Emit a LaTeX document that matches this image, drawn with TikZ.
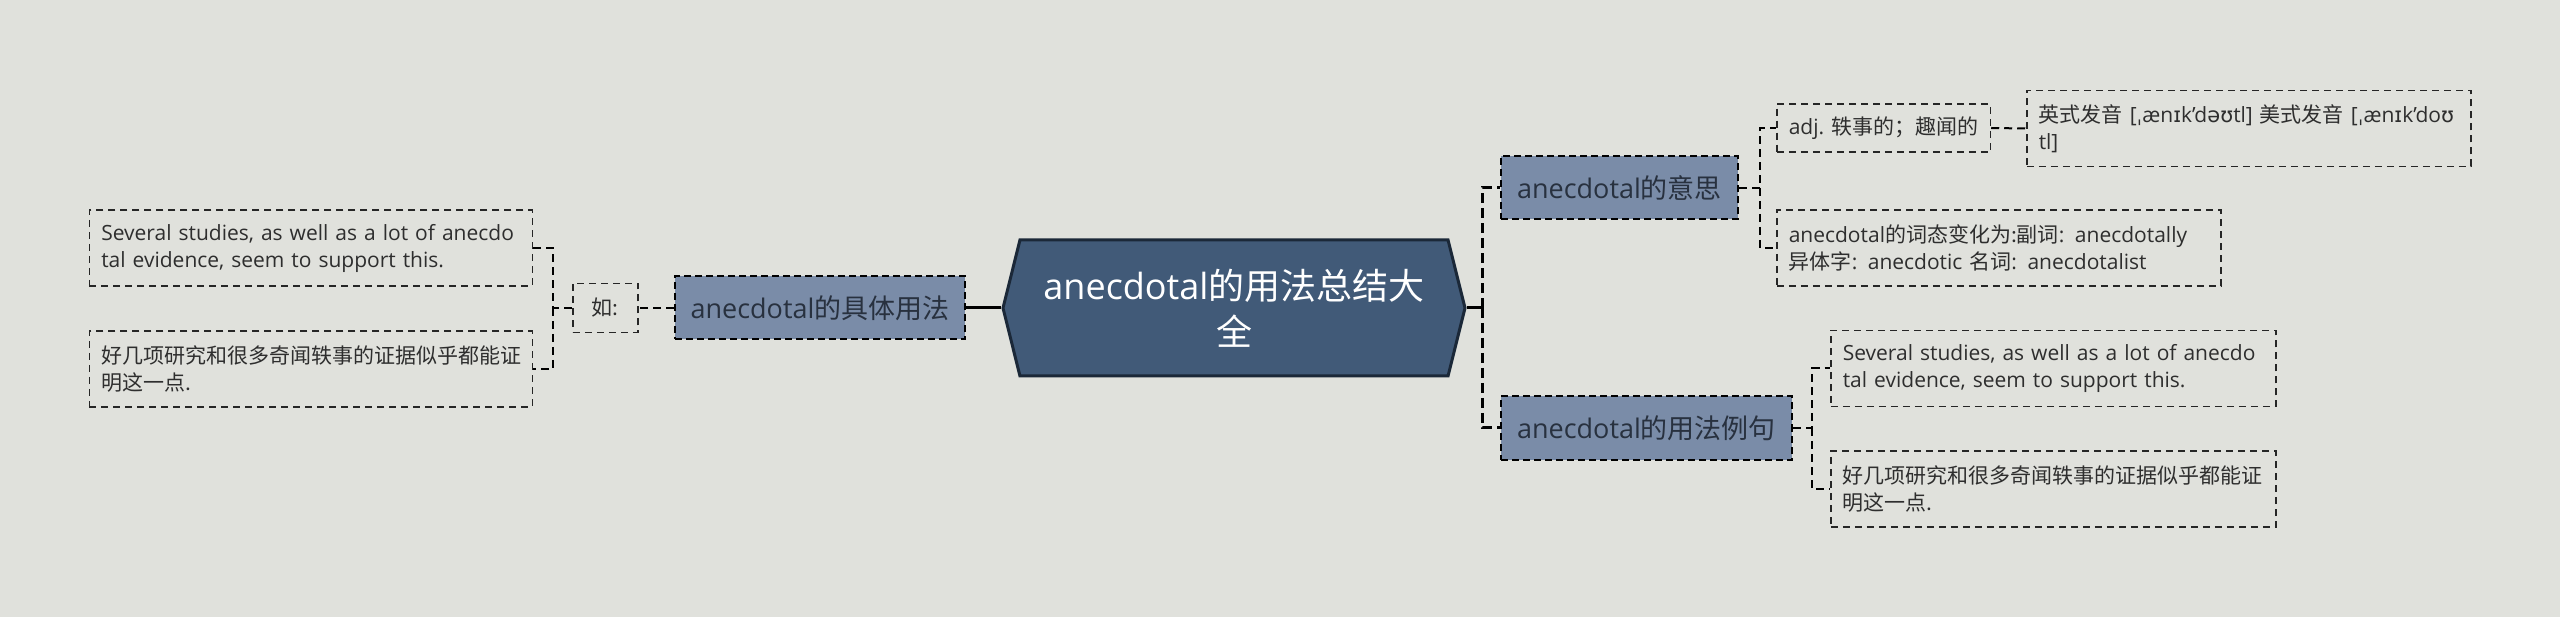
\documentclass[tikz,border=0pt]{standalone}
\usepackage{fontspec}
\setmainfont{Open Sans}
\newfontfamily\zh{Noto Sans CJK SC}
\newfontfamily\ipa{DejaVu Sans}
\usetikzlibrary{shapes.symbols}

\definecolor{bgcol}{HTML}{E0E1DC}
\definecolor{mainblue}{HTML}{415A78}
\definecolor{mainedge}{HTML}{1B2838}
\definecolor{topicblue}{HTML}{7A8CA8}
\definecolor{topictext}{HTML}{28313F}
\definecolor{leaftext}{HTML}{2E2E2E}

\tikzset{
  mainnode/.style={signal, signal to=east and west, signal pointer angle=152,
    fill=mainblue, draw=mainedge, line width=3pt, text=white, align=center,
    font=\fontsize{36}{46}\selectfont, minimum width=462pt, minimum height=136pt, inner sep=0pt},
  topicnode/.style={fill=topicblue, draw=black, line width=2pt, dash pattern=on 7pt off 4pt,
    text=topictext, font=\fontsize{27}{32}\selectfont, minimum height=63pt, inner xsep=0pt},
  leafnode/.style={draw=black!85, line width=1.5pt, dash pattern=on 7pt off 5pt, text=leaftext,
    align=left, font=\fontsize{21}{27}\selectfont, minimum height=76pt, inner xsep=12pt, inner ysep=0pt},
  link/.style={line width=3pt, dash pattern=on 10pt off 5pt},
  sublink/.style={line width=2pt, dash pattern=on 8pt off 5pt},
}

\begin{document}
\begin{tikzpicture}[x=1pt,y=-1pt]
\fill[bgcol] (0,0) rectangle (2560,617);

% centre
\node[mainnode] (main) at (1234,308) {anecdotal{\zh 的用法总结大}\\{\zh 全}};

% right side
\node[topicnode, minimum width=237pt] (mean) at (1619.5,188) {anecdotal{\zh 的意思}};
\node[topicnode, minimum width=291pt] (sent) at (1646.5,428) {anecdotal{\zh 的用法例句}};
\coordinate (rj) at (1482,308);
\draw[line width=3pt] (main.east) -- (rj);
\draw[link] (rj) |- (mean.west);
\draw[link] (rj) |- (sent.west);

\node[leafnode, minimum height=48pt, minimum width=213pt, anchor=west] (adj) at (1776,128) {adj. {\zh 轶事的；趣闻的}};
\node[leafnode, text width=420pt, anchor=west] (pron) at (2026,128.5)
  {{\zh 英式发音} [{\ipa ˌ}æn{\ipa ɪ}k'd{\ipa əʊ}tl] {\zh 美式发音} [{\ipa ˌ}æn{\ipa ɪ}k'do{\ipa ʊ}\\tl]};
\node[leafnode, text width=420pt, anchor=west] (form) at (1776,248)
  {anecdotal{\zh 的词态变化为:副词}: anecdotally\\{\zh 异体字}: anecdotic {\zh 名词}: anecdotalist};
\coordinate (mj) at (1760,188);
\draw[sublink] (mean.east) -- (mj) |- (adj.west);
\draw[sublink] (mj) |- (form.west);
\draw[sublink] (adj.east) -- (pron.west);

\node[leafnode, text width=421pt, anchor=west] (sa) at (1830,368.5)
  {Several studies, as well as a lot of anecdo\\tal evidence, seem to support this.};
\node[leafnode, text width=421pt, anchor=west] (sb) at (1830,489)
  {{\zh 好几项研究和很多奇闻轶事的证据似乎都能证}\\{\zh 明这一点.}};
\coordinate (sj) at (1812,428);
\draw[sublink] (sent.east) -- (sj) |- (sa.west);
\draw[sublink] (sj) |- (sb.west);

% left side
\node[topicnode, minimum width=290pt] (use) at (820,308) {anecdotal{\zh 的具体用法}};
\coordinate (lj) at (975,308);
\draw[line width=3pt] (main.west) -- (lj);
\draw[link] (lj) -- (use.east);

\node[leafnode, minimum height=49pt, minimum width=65pt, inner xsep=10pt, anchor=west] (ru) at (572,308) {{\zh 如:}};
\draw[sublink] (use.west) -- (ru.east);

\node[leafnode, text width=419pt, anchor=east] (la) at (533,248)
  {Several studies, as well as a lot of anecdo\\tal evidence, seem to support this.};
\node[leafnode, text width=419pt, anchor=east] (lb) at (533,369)
  {{\zh 好几项研究和很多奇闻轶事的证据似乎都能证}\\{\zh 明这一点.}};
\coordinate (rq) at (553,308);
\draw[sublink] (ru.west) -- (rq) |- (la.east);
\draw[sublink] (rq) |- (lb.east);
\end{tikzpicture}
\end{document}
